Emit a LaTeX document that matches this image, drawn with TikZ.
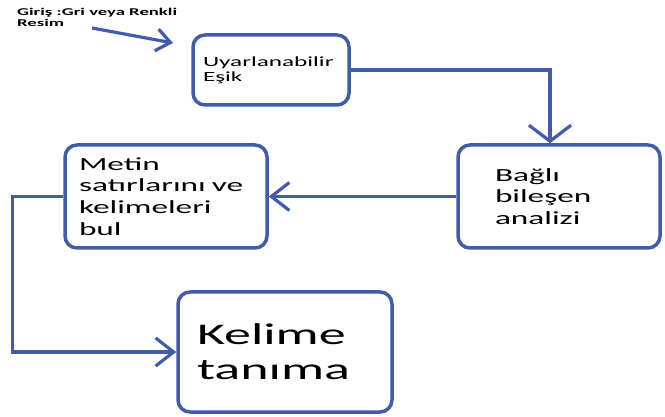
\documentclass[tikz,border=0pt]{standalone}
\usepackage{fontspec}
\setmainfont{Carlito}[FakeStretch=1.8]
\usepackage{tikz}
\usetikzlibrary{calc}
\usetikzlibrary{arrows.meta}

\definecolor{flowblue}{RGB}{64,92,170}

\tikzset{
    box/.style={draw=flowblue, line width=3.5pt, rounded corners=12pt, inner sep=0pt, align=left},
    flow/.style={draw=flowblue, line width=3.2pt, -{Straight Barb[length=18pt, width=28pt]}}
}

\begin{document}
\begin{tikzpicture}[x=1pt, y=-1pt]
        \useasboundingbox (0,0) rectangle (665,417);

        \node[anchor=north west, inner sep=0pt, align=left, font=\fontsize{10.4}{11}\selectfont\bfseries](girdi) at (17,8) {Giriş :Gri veya Renkli\\Resim};
        \node[box, minimum width=156pt, minimum height=70pt, text width=136pt, font=\fontsize{14}{15}\selectfont](esik) at (271,70) {Uyarlanabilir\\Eşik};
        \node[box, minimum width=202pt, minimum height=103pt, text width=128pt, font=\fontsize{18.5}{21.5}\selectfont](bilesen) at (559,196.5) {Bağlı\\bileşen\\analizi};
        \node[box, minimum width=202pt, minimum height=103pt, text width=174pt, font=\fontsize{18.5}{21.7}\selectfont](metin) at (166,196.5) {Metin\\satırlarını ve\\kelimeleri\\bul};
        \node[box, minimum width=214pt, minimum height=120pt, text width=176pt, font=\fontsize{30}{35}\selectfont](tanima) at (285,352) {Kelime\\tanıma};

        \coordinate (girdibas) at (92,28);
        \coordinate (girdison) at (173,43);

        \draw[flow, -{Straight Barb[length=14pt, width=22pt]}] (girdibas) -- (girdison);
        \draw[flow, -{Straight Barb[length=16pt, width=42pt]}] (esik.east) -| ([xshift=-9pt]bilesen.north);
        \draw[flow] (bilesen.west) -- (metin.east);
        \draw[flow] (metin.west) -- ++(-51,0) |- (tanima.west);
    \end{tikzpicture}
\end{document}
